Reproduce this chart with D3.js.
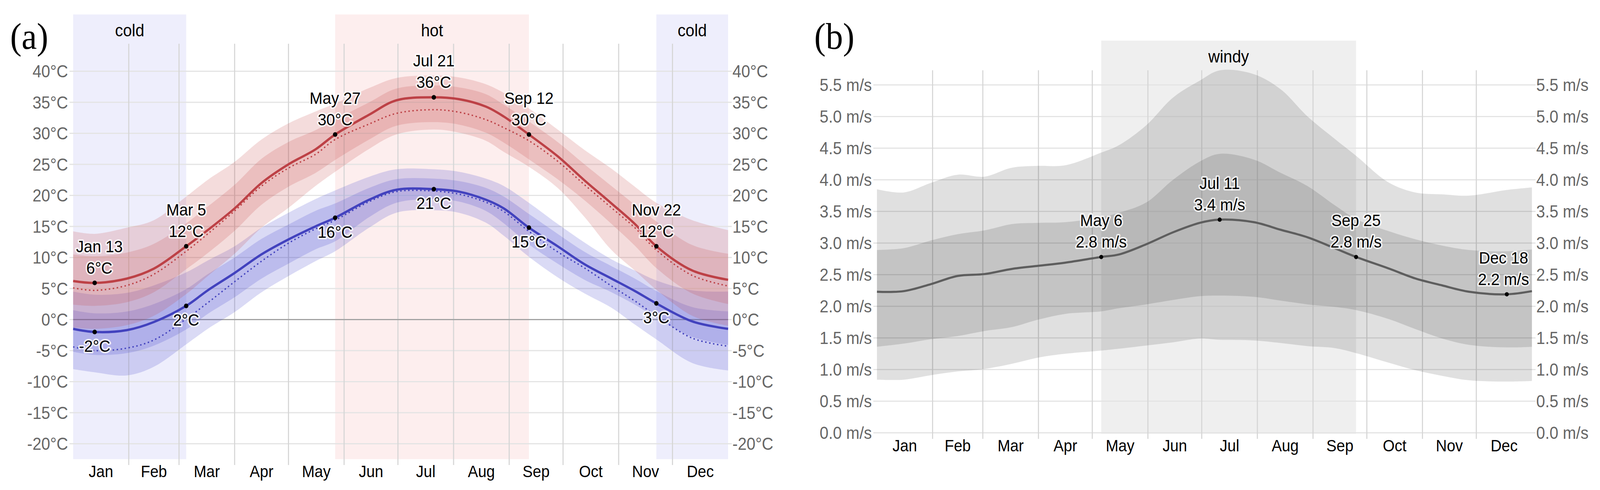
<!DOCTYPE html>
<html><head><meta charset="utf-8">
<script src="https://cdn.jsdelivr.net/npm/d3@7"></script>
<style>
html,body{margin:0;padding:0;background:#fff;overflow:hidden;width:100%;height:100%;}
svg{display:block;width:100vw;height:100vh;}
text{font-family:"Liberation Sans",Arial,Helvetica,sans-serif;}
text.letter{font-family:"Liberation Serif","Times New Roman",serif;}
</style></head><body>
<svg id="chart" viewBox="0 0 4419 1255" preserveAspectRatio="none"></svg>
<script>
// ---------------- DATA ----------------
const months = ["Jan","Feb","Mar","Apr","May","Jun","Jul","Aug","Sep","Oct","Nov","Dec"];
const monthStartDays = [0,31,59,90,120,151,181,212,243,273,304,334,365];

// Panel (a): temperature (°C), sampled at day-of-year
const tempDays  = [0, 12, 30, 45, 63, 75, 90, 105, 120, 135, 146, 165, 180, 201, 215, 230, 240, 254, 270, 285, 300, 313, 325, 345, 365];
const highMean  = [6.2, 5.9, 6.6, 8.2, 11.8, 14.4, 17.9, 22.0, 25.0, 27.4, 29.8, 33.0, 35.3, 35.8, 35.5, 34.3, 32.7, 29.8, 26.3, 22.4, 18.7, 15.4, 11.8, 7.9, 6.4];
const highFeels = [5.1, 4.7, 5.5, 7.3, 11.0, 13.8, 17.5, 21.5, 24.4, 26.6, 29.0, 31.5, 33.2, 33.8, 33.4, 32.2, 30.9, 28.8, 25.5, 21.7, 18.0, 14.8, 11.2, 7.1, 5.4];
const highP10   = [-1.3, -1.5, -0.9, 0.6, 4.1, 7.0, 10.6, 14.8, 18.0, 21.5, 23.8, 27.5, 29.8, 30.6, 30.1, 28.8, 27.0, 24.6, 21.2, 16.5, 11.2, 7.9, 4.8, 0.6, -1.0];
const highP25   = [2.4, 2.2, 2.8, 4.4, 8.1, 10.7, 14.3, 18.5, 21.4, 23.6, 25.7, 29.0, 31.2, 31.8, 31.4, 30.1, 28.5, 25.8, 22.6, 19.2, 15.4, 11.9, 8.3, 4.2, 2.5];
const highP75   = [10.5, 10.2, 10.8, 12.2, 15.5, 18.2, 21.7, 25.9, 28.6, 30.5, 32.2, 35.0, 37.2, 37.7, 37.4, 36.3, 34.6, 31.9, 28.6, 25.0, 21.5, 18.5, 15.8, 12.0, 10.6];
const highP90   = [14.2, 13.8, 14.8, 16.0, 19.8, 22.5, 25.4, 29.0, 31.6, 33.5, 34.8, 37.3, 38.9, 39.3, 39.0, 37.9, 36.5, 34.0, 30.6, 27.3, 24.3, 21.4, 18.8, 16.0, 14.4];
const lowMean   = [-1.5, -2.0, -1.7, -0.4, 2.2, 4.7, 7.5, 10.5, 12.9, 15.0, 16.4, 19.3, 20.9, 21.0, 20.6, 19.3, 17.9, 14.8, 11.8, 8.9, 6.6, 4.6, 2.6, -0.3, -1.5];
const lowFeels  = [-4.4, -5.0, -4.6, -3.3, 0.1, 2.7, 6.1, 9.4, 12.3, 14.6, 16.0, 19.0, 20.6, 20.7, 20.2, 18.9, 17.4, 14.2, 10.9, 8.3, 5.4, 3.0, 0.6, -3.0, -4.3];
const lowP10    = [-8.0, -8.5, -9.0, -7.6, -4.0, -1.5, 1.2, 4.4, 7.0, 9.4, 11.0, 14.8, 17.2, 17.6, 17.2, 15.6, 13.5, 10.1, 6.8, 4.2, 1.9, -0.8, -3.2, -7.0, -8.2];
const lowP25    = [-5.2, -5.7, -5.4, -4.2, -1.6, 0.9, 3.6, 6.6, 9.0, 11.3, 12.6, 16.5, 18.8, 19.4, 19.0, 17.5, 15.5, 12.1, 9.0, 6.4, 4.4, 2.4, 0.3, -2.8, -4.1];
const lowP75    = [1.5, 1.0, 1.3, 2.5, 4.9, 7.3, 10.0, 13.0, 15.3, 17.5, 18.7, 21.2, 22.6, 22.7, 22.3, 21.2, 19.8, 17.0, 13.8, 10.9, 8.6, 6.6, 4.6, 2.0, 1.3];
const lowP90    = [4.5, 4.0, 4.3, 5.5, 7.6, 9.5, 11.8, 14.8, 17.2, 19.4, 20.8, 23.0, 24.2, 24.2, 23.8, 22.7, 21.5, 18.8, 15.4, 12.4, 9.7, 7.9, 6.3, 4.7, 4.5];
const tempMarkDays = [12, 63, 146, 201, 254, 325];
const tempTicks = [-20, -15, -10, -5, 0, 5, 10, 15, 20, 25, 30, 35, 40];
const tempSeasonNames = ["cold", "hot", "cold"];
const tempSeasonStart = [0, 146, 325];
const tempSeasonEnd   = [63, 254, 365];

// Panel (b): wind speed (m/s)
const windDays = [0, 15, 30, 45, 60, 75, 90, 105, 125, 135, 150, 165, 180, 191, 210, 225, 240, 255, 267, 285, 300, 315, 330, 351, 365];
const windMean = [2.23, 2.24, 2.35, 2.48, 2.51, 2.59, 2.64, 2.69, 2.78, 2.82, 2.98, 3.17, 3.32, 3.37, 3.33, 3.21, 3.09, 2.92, 2.78, 2.60, 2.44, 2.33, 2.23, 2.19, 2.24];
const windP10  = [0.84, 0.84, 0.91, 0.97, 1.01, 1.09, 1.19, 1.25, 1.30, 1.33, 1.38, 1.43, 1.49, 1.47, 1.46, 1.42, 1.37, 1.34, 1.26, 1.11, 0.99, 0.90, 0.83, 0.81, 0.82];
const windP25  = [1.36, 1.41, 1.48, 1.53, 1.61, 1.67, 1.79, 1.88, 1.92, 1.97, 2.03, 2.10, 2.16, 2.17, 2.15, 2.09, 2.03, 1.99, 1.94, 1.80, 1.64, 1.49, 1.39, 1.35, 1.36];
const windP75  = [2.89, 2.92, 3.04, 3.14, 3.20, 3.30, 3.32, 3.33, 3.41, 3.48, 3.64, 4.00, 4.29, 4.41, 4.32, 4.11, 3.90, 3.60, 3.38, 3.19, 3.06, 2.96, 2.89, 2.87, 2.90];
const windP90  = [3.85, 3.80, 3.95, 4.08, 4.05, 4.19, 4.22, 4.23, 4.43, 4.55, 4.86, 5.30, 5.57, 5.73, 5.67, 5.43, 5.00, 4.65, 4.38, 3.96, 3.80, 3.77, 3.75, 3.84, 3.88];
const windMarkDays = [125, 191, 267, 351];
const windTicks = [0, 0.5, 1, 1.5, 2, 2.5, 3, 3.5, 4, 4.5, 5, 5.5];
const windSeasonNames = ["windy"];
const windSeasonStart = [125];
const windSeasonEnd   = [267];

// ---------------- DRAWING ----------------
const svg = d3.select("#chart");
svg.append("rect").attr("width", 4419).attr("height", 1255).attr("fill", "#fff");

const dateFmt = d3.timeFormat("%b %-d");
const dayLabel = d => dateFmt(new Date(2023, 0, 1 + d));
const curve = d3.curveCatmullRom.alpha(0.5);

function rows(days, ...cols) {
  return days.map((d, i) => [d, ...cols.map(c => c[i])]);
}

function halo(sel) {
  return sel.attr("stroke", "rgba(255,255,255,0.75)").attr("stroke-width", 8)
    .attr("stroke-linejoin", "round").attr("paint-order", "stroke");
}

function annotate(g, cx, cy, lines, above, left, right) {
  const grp = g.append("g");
  const ts = lines.map((s, i) => {
    let y;
    if (above) y = cy - (i === lines.length - 1 ? 24 : 79);
    else y = cy + 51;
    return halo(grp.append("text").attr("y", y).attr("text-anchor", "middle")
      .attr("font-size", 43).attr("fill", "#000").text(s));
  });
  const hw = d3.max(ts, t => t.node().getComputedTextLength()) / 2;
  const x = Math.max(left + hw + 8, Math.min(right - hw - 8, cx));
  ts.forEach(t => t.attr("x", x));
}

function drawFrame(g, x, y, cfg) {
  cfg.seasonNames.forEach((name, i) => {
    g.append("rect").attr("x", x(cfg.seasonStart[i])).attr("y", cfg.bgTop)
      .attr("width", x(cfg.seasonEnd[i]) - x(cfg.seasonStart[i]))
      .attr("height", cfg.bgBottom - cfg.bgTop).attr("fill", cfg.seasonColors[i]);
    g.append("text").attr("x", (x(cfg.seasonStart[i]) + x(cfg.seasonEnd[i])) / 2)
      .attr("y", cfg.seasonLabelY).attr("text-anchor", "middle")
      .attr("font-size", 44).attr("fill", "#000").text(name);
  });
  g.selectAll(null).data(cfg.ticks).enter().append("line")
    .attr("x1", x.range()[0] - 10).attr("x2", x.range()[1] + 10)
    .attr("y1", d => y(d)).attr("y2", d => y(d))
    .attr("stroke", "#e4e4e4").attr("stroke-width", 3);
  g.selectAll(null).data(monthStartDays.slice(1, 12)).enter().append("line")
    .attr("x1", d => x(d)).attr("x2", d => x(d))
    .attr("y1", cfg.vTop).attr("y2", cfg.vBottom)
    .attr("stroke", "#d6d6d6").attr("stroke-width", 3);
  cfg.ticks.forEach(t => {
    g.append("text").attr("x", x.range()[0] - 14).attr("y", y(t)).attr("dy", "0.36em")
      .attr("text-anchor", "end").attr("font-size", 44).attr("fill", "#666").text(cfg.fmt(t));
    g.append("text").attr("x", x.range()[1] + 12).attr("y", y(t)).attr("dy", "0.36em")
      .attr("text-anchor", "start").attr("font-size", 44).attr("fill", "#666").text(cfg.fmt(t));
  });
  months.forEach((m, i) => {
    g.append("text").attr("x", x((monthStartDays[i] + monthStartDays[i + 1]) / 2))
      .attr("y", cfg.monthY).attr("text-anchor", "middle")
      .attr("font-size", 42).attr("fill", "#000").text(m);
  });
  g.append("text").attr("class", "letter").attr("x", cfg.letterX).attr("y", 125)
    .attr("font-size", 95).attr("fill", "#000").text(cfg.letter);
}

// ---- Panel (a) ----
{
  const x = d3.scaleLinear().domain([0, 365]).range([202, 2011]);
  const y = d3.scaleLinear().domain([-20, 40]).range([1136.4, 182.4]);
  const g = svg.append("g");
  drawFrame(g, x, y, {
    seasonNames: tempSeasonNames, seasonStart: tempSeasonStart, seasonEnd: tempSeasonEnd,
    seasonColors: ["#eeeefc", "#fdeeee", "#eeeefc"], bgTop: 37, bgBottom: 1176, seasonLabelY: 93,
    ticks: tempTicks, vTop: 112, vBottom: 1191, fmt: t => t + "°C", monthY: 1222,
    letter: "(a)", letterX: 28
  });
  g.append("line").attr("x1", x(0)).attr("x2", x(365)).attr("y1", y(0)).attr("y2", y(0))
    .attr("stroke", "#a2a2a2").attr("stroke-width", 3);

  const data = rows(tempDays, highMean, highFeels, highP10, highP25, highP75, highP90,
                    lowMean, lowFeels, lowP10, lowP25, lowP75, lowP90);
  const area = (i0, i1) => d3.area().x(d => x(d[0])).y0(d => y(d[i0])).y1(d => y(d[i1])).curve(curve);
  const line = i => d3.line().x(d => x(d[0])).y(d => y(d[i])).curve(curve);

  const blueBand = "rgba(60,60,200,0.19)";
  const redBand = "rgba(195,70,70,0.19)";
  g.append("path").attr("d", area(9, 12)(data)).attr("fill", blueBand);
  g.append("path").attr("d", area(10, 11)(data)).attr("fill", blueBand);
  g.append("path").attr("d", area(3, 6)(data)).attr("fill", redBand);
  g.append("path").attr("d", area(4, 5)(data)).attr("fill", redBand);

  const red = "#bd4146", blue = "#4242be";
  g.append("path").attr("d", line(2)(data)).attr("fill", "none").attr("stroke", red)
    .attr("stroke-width", 3.5).attr("stroke-dasharray", "4,7");
  g.append("path").attr("d", line(8)(data)).attr("fill", "none").attr("stroke", blue)
    .attr("stroke-width", 3.5).attr("stroke-dasharray", "4,7");
  g.append("path").attr("d", line(1)(data)).attr("fill", "none").attr("stroke", red)
    .attr("stroke-width", 6).attr("stroke-linejoin", "round");
  g.append("path").attr("d", line(7)(data)).attr("fill", "none").attr("stroke", blue)
    .attr("stroke-width", 6).attr("stroke-linejoin", "round");

  tempMarkDays.forEach(d => {
    const i = tempDays.indexOf(d);
    const hx = x(d), hy = y(highMean[i]), ly = y(lowMean[i]);
    g.append("circle").attr("cx", hx).attr("cy", hy).attr("r", 6).attr("fill", "#000");
    g.append("circle").attr("cx", hx).attr("cy", ly).attr("r", 6).attr("fill", "#000");
    annotate(g, hx, hy, [dayLabel(d), Math.round(highMean[i]) + "°C"], true, 202, 2011);
    annotate(g, hx, ly, [Math.round(lowMean[i]) + "°C"], false, 202, 2011);
  });
}

// ---- Panel (b) ----
{
  const x = d3.scaleLinear().domain([0, 365]).range([2422, 4231]);
  const y = d3.scaleLinear().domain([0, 5.5]).range([1108.5, 217.5]);
  const g = svg.append("g");
  const f1 = d3.format(".1f");
  drawFrame(g, x, y, {
    seasonNames: windSeasonNames, seasonStart: windSeasonStart, seasonEnd: windSeasonEnd,
    seasonColors: ["#efefef"], bgTop: 104, bgBottom: 1111, seasonLabelY: 160,
    ticks: windTicks, vTop: 180, vBottom: 1124, fmt: t => f1(t) + " m/s", monthY: 1156,
    letter: "(b)", letterX: 2249
  });
  const data = rows(windDays, windMean, windP10, windP25, windP75, windP90);
  const area = (i0, i1) => d3.area().x(d => x(d[0])).y0(d => y(d[i0])).y1(d => y(d[i1])).curve(curve);
  g.append("path").attr("d", area(2, 5)(data)).attr("fill", "rgba(0,0,0,0.12)");
  g.append("path").attr("d", area(3, 4)(data)).attr("fill", "rgba(0,0,0,0.12)");
  g.append("path").attr("d", d3.line().x(d => x(d[0])).y(d => y(d[1])).curve(curve)(data))
    .attr("fill", "none").attr("stroke", "#5e5e5e").attr("stroke-width", 5.5);
  windMarkDays.forEach(d => {
    const i = windDays.indexOf(d);
    const cx = x(d), cy = y(windMean[i]);
    g.append("circle").attr("cx", cx).attr("cy", cy).attr("r", 5.5).attr("fill", "#000");
    annotate(g, cx, cy, [dayLabel(d), f1(windMean[i]) + " m/s"], true, 2422, 4231);
  });
}
</script>
</body></html>
